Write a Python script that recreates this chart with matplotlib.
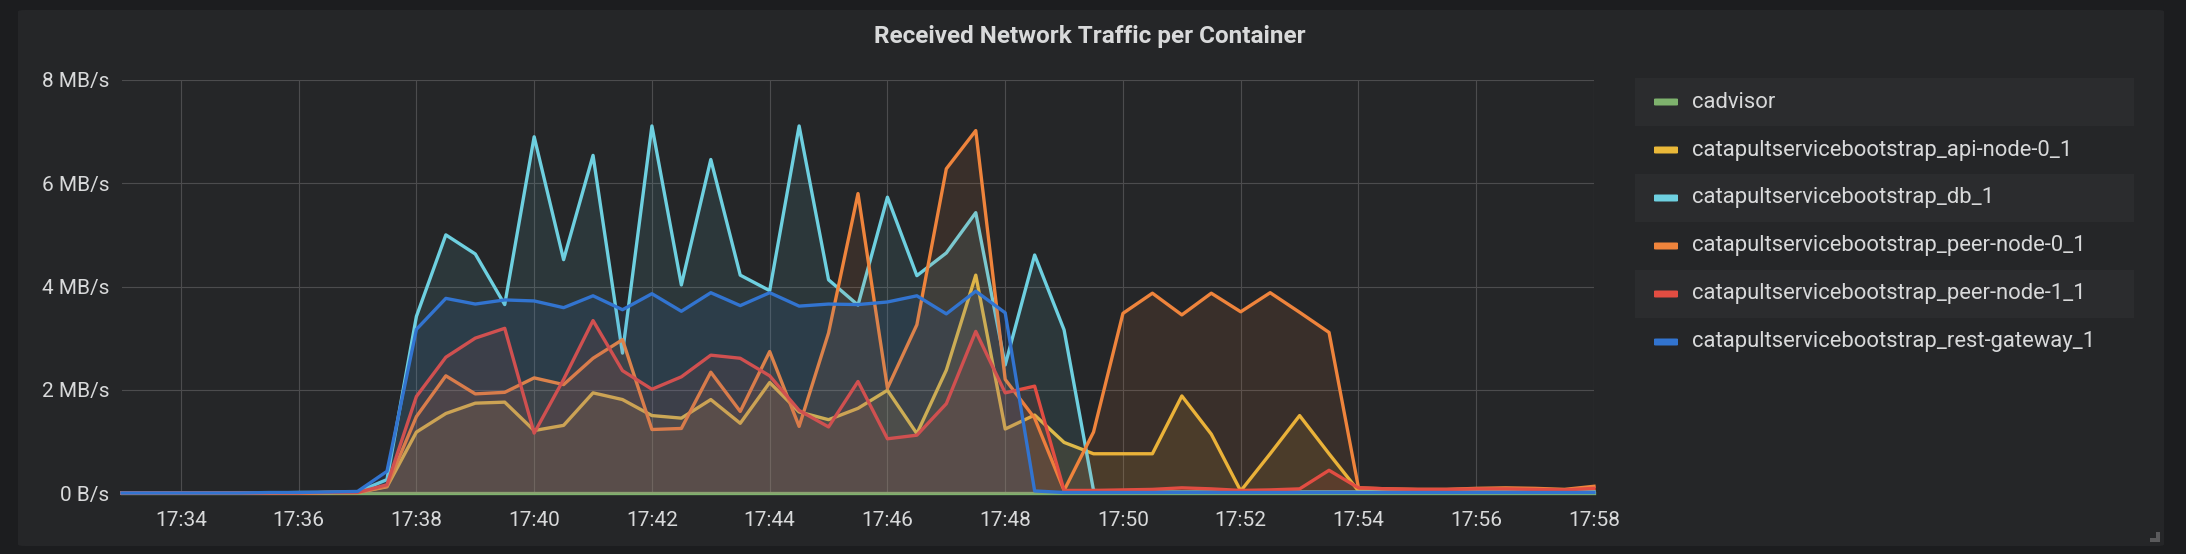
import pandas as pd
import matplotlib.pyplot as plt
import matplotlib.dates as mdates
from matplotlib.patches import FancyBboxPatch, Rectangle

plt.rcParams['font.family'] = ['Roboto', 'DejaVu Sans']

W, H = 2186, 554  # размер картинки в пикселях

# время: 17:33 - 17:58, шаг 30 сек
times = pd.date_range('2019-01-01 17:33:00', '2019-01-01 17:58:00', freq='30s')

names = ['cadvisor',
         'catapultservicebootstrap_api-node-0_1',
         'catapultservicebootstrap_db_1',
         'catapultservicebootstrap_peer-node-0_1',
         'catapultservicebootstrap_peer-node-1_1',
         'catapultservicebootstrap_rest-gateway_1']
colors = ['#7EB26D', '#EAB839', '#6ED0E0', '#EF843C', '#E24D42', '#3274D0']

# MB/s
cadvisor = [0, 0, 0, 0, 0, 0, 0, 0, 0, 0,
            0, 0, 0, 0, 0, 0, 0, 0, 0, 0,
            0, 0, 0, 0, 0, 0, 0, 0, 0, 0,
            0, 0, 0, 0, 0, 0, 0, 0, 0, 0,
            0, 0, 0, 0, 0, 0, 0, 0, 0, 0, 0]
api_node = [0, 0, 0, 0, 0, 0, 0, 0.01, 0.01, 0.12,
            1.18, 1.54, 1.74, 1.76, 1.21, 1.31, 1.94, 1.81, 1.50, 1.45,
            1.81, 1.35, 2.14, 1.57, 1.42, 1.64, 1.99, 1.15, 2.38, 4.22,
            1.24, 1.51, 0.98, 0.76, 0.76, 0.76, 1.88, 1.14, 0.04, 0.76,
            1.50, 0.76, 0.04, 0.02, 0.02, 0.02, 0.02, 0.02, 0.02, 0.02, 0.02]
db = [0, 0, 0, 0, 0, 0, 0.01, 0.01, 0.02, 0.26,
      3.42, 5.00, 4.63, 3.65, 6.90, 4.52, 6.54, 2.71, 7.11, 4.03,
      6.46, 4.22, 3.92, 7.11, 4.13, 3.64, 5.73, 4.21, 4.65, 5.43,
      2.48, 4.61, 3.16, 0.05, 0.02, 0.02, 0.02, 0.02, 0.02, 0.02,
      0.02, 0.02, 0.02, 0.02, 0.02, 0.02, 0.02, 0.02, 0.02, 0.02, 0.02]
peer_node_0 = [0, 0, 0, 0, 0, 0, 0, 0.01, 0.01, 0.13,
               1.48, 2.27, 1.92, 1.95, 2.23, 2.10, 2.61, 2.97, 1.23, 1.25,
               2.34, 1.58, 2.74, 1.29, 3.10, 5.80, 2.03, 3.26, 6.28, 7.02,
               2.20, 1.45, 0.05, 1.18, 3.48, 3.87, 3.45, 3.87, 3.51, 3.88,
               3.50, 3.11, 0.10, 0.08, 0.07, 0.07, 0.09, 0.10, 0.09, 0.07, 0.13]
peer_node_1 = [0, 0, 0, 0, 0, 0, 0, 0.01, 0.01, 0.16,
               1.87, 2.63, 3.00, 3.19, 1.16, 2.20, 3.34, 2.37, 2.01, 2.25,
               2.67, 2.61, 2.27, 1.60, 1.28, 2.16, 1.05, 1.12, 1.73, 3.13,
               1.94, 2.07, 0.05, 0.05, 0.06, 0.07, 0.10, 0.08, 0.05, 0.06,
               0.08, 0.44, 0.10, 0.08, 0.07, 0.07, 0.08, 0.08, 0.07, 0.06, 0.09]
rest_gateway = [0, 0, 0, 0, 0, 0.01, 0.01, 0.02, 0.03, 0.42,
                3.17, 3.77, 3.66, 3.74, 3.72, 3.59, 3.82, 3.55, 3.86, 3.52,
                3.88, 3.63, 3.88, 3.62, 3.66, 3.65, 3.70, 3.82, 3.47, 3.91,
                3.49, 0.04, 0.01, 0.01, 0.01, 0.01, 0.01, 0.01, 0.01, 0.01,
                0.01, 0.01, 0.01, 0.01, 0.01, 0.01, 0.01, 0.01, 0.01, 0.01, 0.01]

y_ticks = [0, 2, 4, 6, 8]
y_labels = ['0 B/s', '2 MB/s', '4 MB/s', '6 MB/s', '8 MB/s']
title = 'Received Network Traffic per Container'

values = [cadvisor, api_node, db, peer_node_0, peer_node_1, rest_gateway]

text_color = '#d8d9da'
fig = plt.figure(figsize=(W / 100, H / 100), dpi=100)
fig.patch.set_facecolor('#1c1d1f')


def fx(px):
    return px / W


def fy(py):
    return 1 - py / H


# панель
fig.add_artist(FancyBboxPatch((fx(18), fy(546)), fx(2164 - 18), (546 - 10) / H,
                              boxstyle='round,pad=0,rounding_size=0.003',
                              facecolor='#252628', edgecolor='none',
                              transform=fig.transFigure, zorder=0))

fig.text(fx(1090), fy(37), title, ha='center', va='center',
         fontsize=17.5, fontweight='bold', color=text_color)

ax = fig.add_axes([fx(122), fy(493), fx(1594 - 122), (493 - 80) / H])
ax.set_facecolor('none')

for i, (vals, c) in enumerate(zip(values, colors)):
    ax.fill_between(times, vals, 0, color=c, alpha=0.1, linewidth=0, zorder=2 + i)
    ax.plot(times, vals, color=c, linewidth=2.4, zorder=2 + i, clip_on=False)

ax.set_xlim(times[0], times[-1])
ax.set_ylim(0, 8)
ax.set_yticks(y_ticks)
ax.set_yticklabels(y_labels)
ax.xaxis.set_major_locator(mdates.MinuteLocator(byminute=range(0, 60, 2)))
ax.xaxis.set_major_formatter(mdates.DateFormatter('%H:%M'))
ax.tick_params(axis='both', length=0, labelsize=15, labelcolor=text_color)
ax.tick_params(axis='x', pad=13)
ax.tick_params(axis='y', pad=9)
ax.grid(True, color='#4c4c4e', linewidth=0.8, zorder=1)
for s in ax.spines.values():
    s.set_visible(False)

# легенда справа
for i, (name, c) in enumerate(zip(names, colors)):
    yc = 102 + 48 * i
    if i % 2 == 0:
        fig.add_artist(Rectangle((fx(1635), fy(yc + 24)), fx(2134 - 1635), 48 / H,
                                 facecolor='#2b2c2e', edgecolor='none',
                                 transform=fig.transFigure, zorder=1))
    fig.add_artist(FancyBboxPatch((fx(1654), fy(yc + 3.5)), fx(24), 7 / H,
                                  boxstyle='round,pad=0,rounding_size=0.001',
                                  facecolor=c, edgecolor='none',
                                  transform=fig.transFigure, zorder=2))
    fig.text(fx(1692), fy(yc), name, ha='left', va='center',
             fontsize=15.8, color=text_color, zorder=3)

# уголок изменения размера
fig.add_artist(Rectangle((fx(2156), fy(542)), fx(4), 10 / H, facecolor='#5a5a5c',
                         edgecolor='none', transform=fig.transFigure))
fig.add_artist(Rectangle((fx(2150), fy(542)), fx(10), 4 / H, facecolor='#5a5a5c',
                         edgecolor='none', transform=fig.transFigure))

fig.savefig('out.png', dpi=100, facecolor=fig.get_facecolor())
